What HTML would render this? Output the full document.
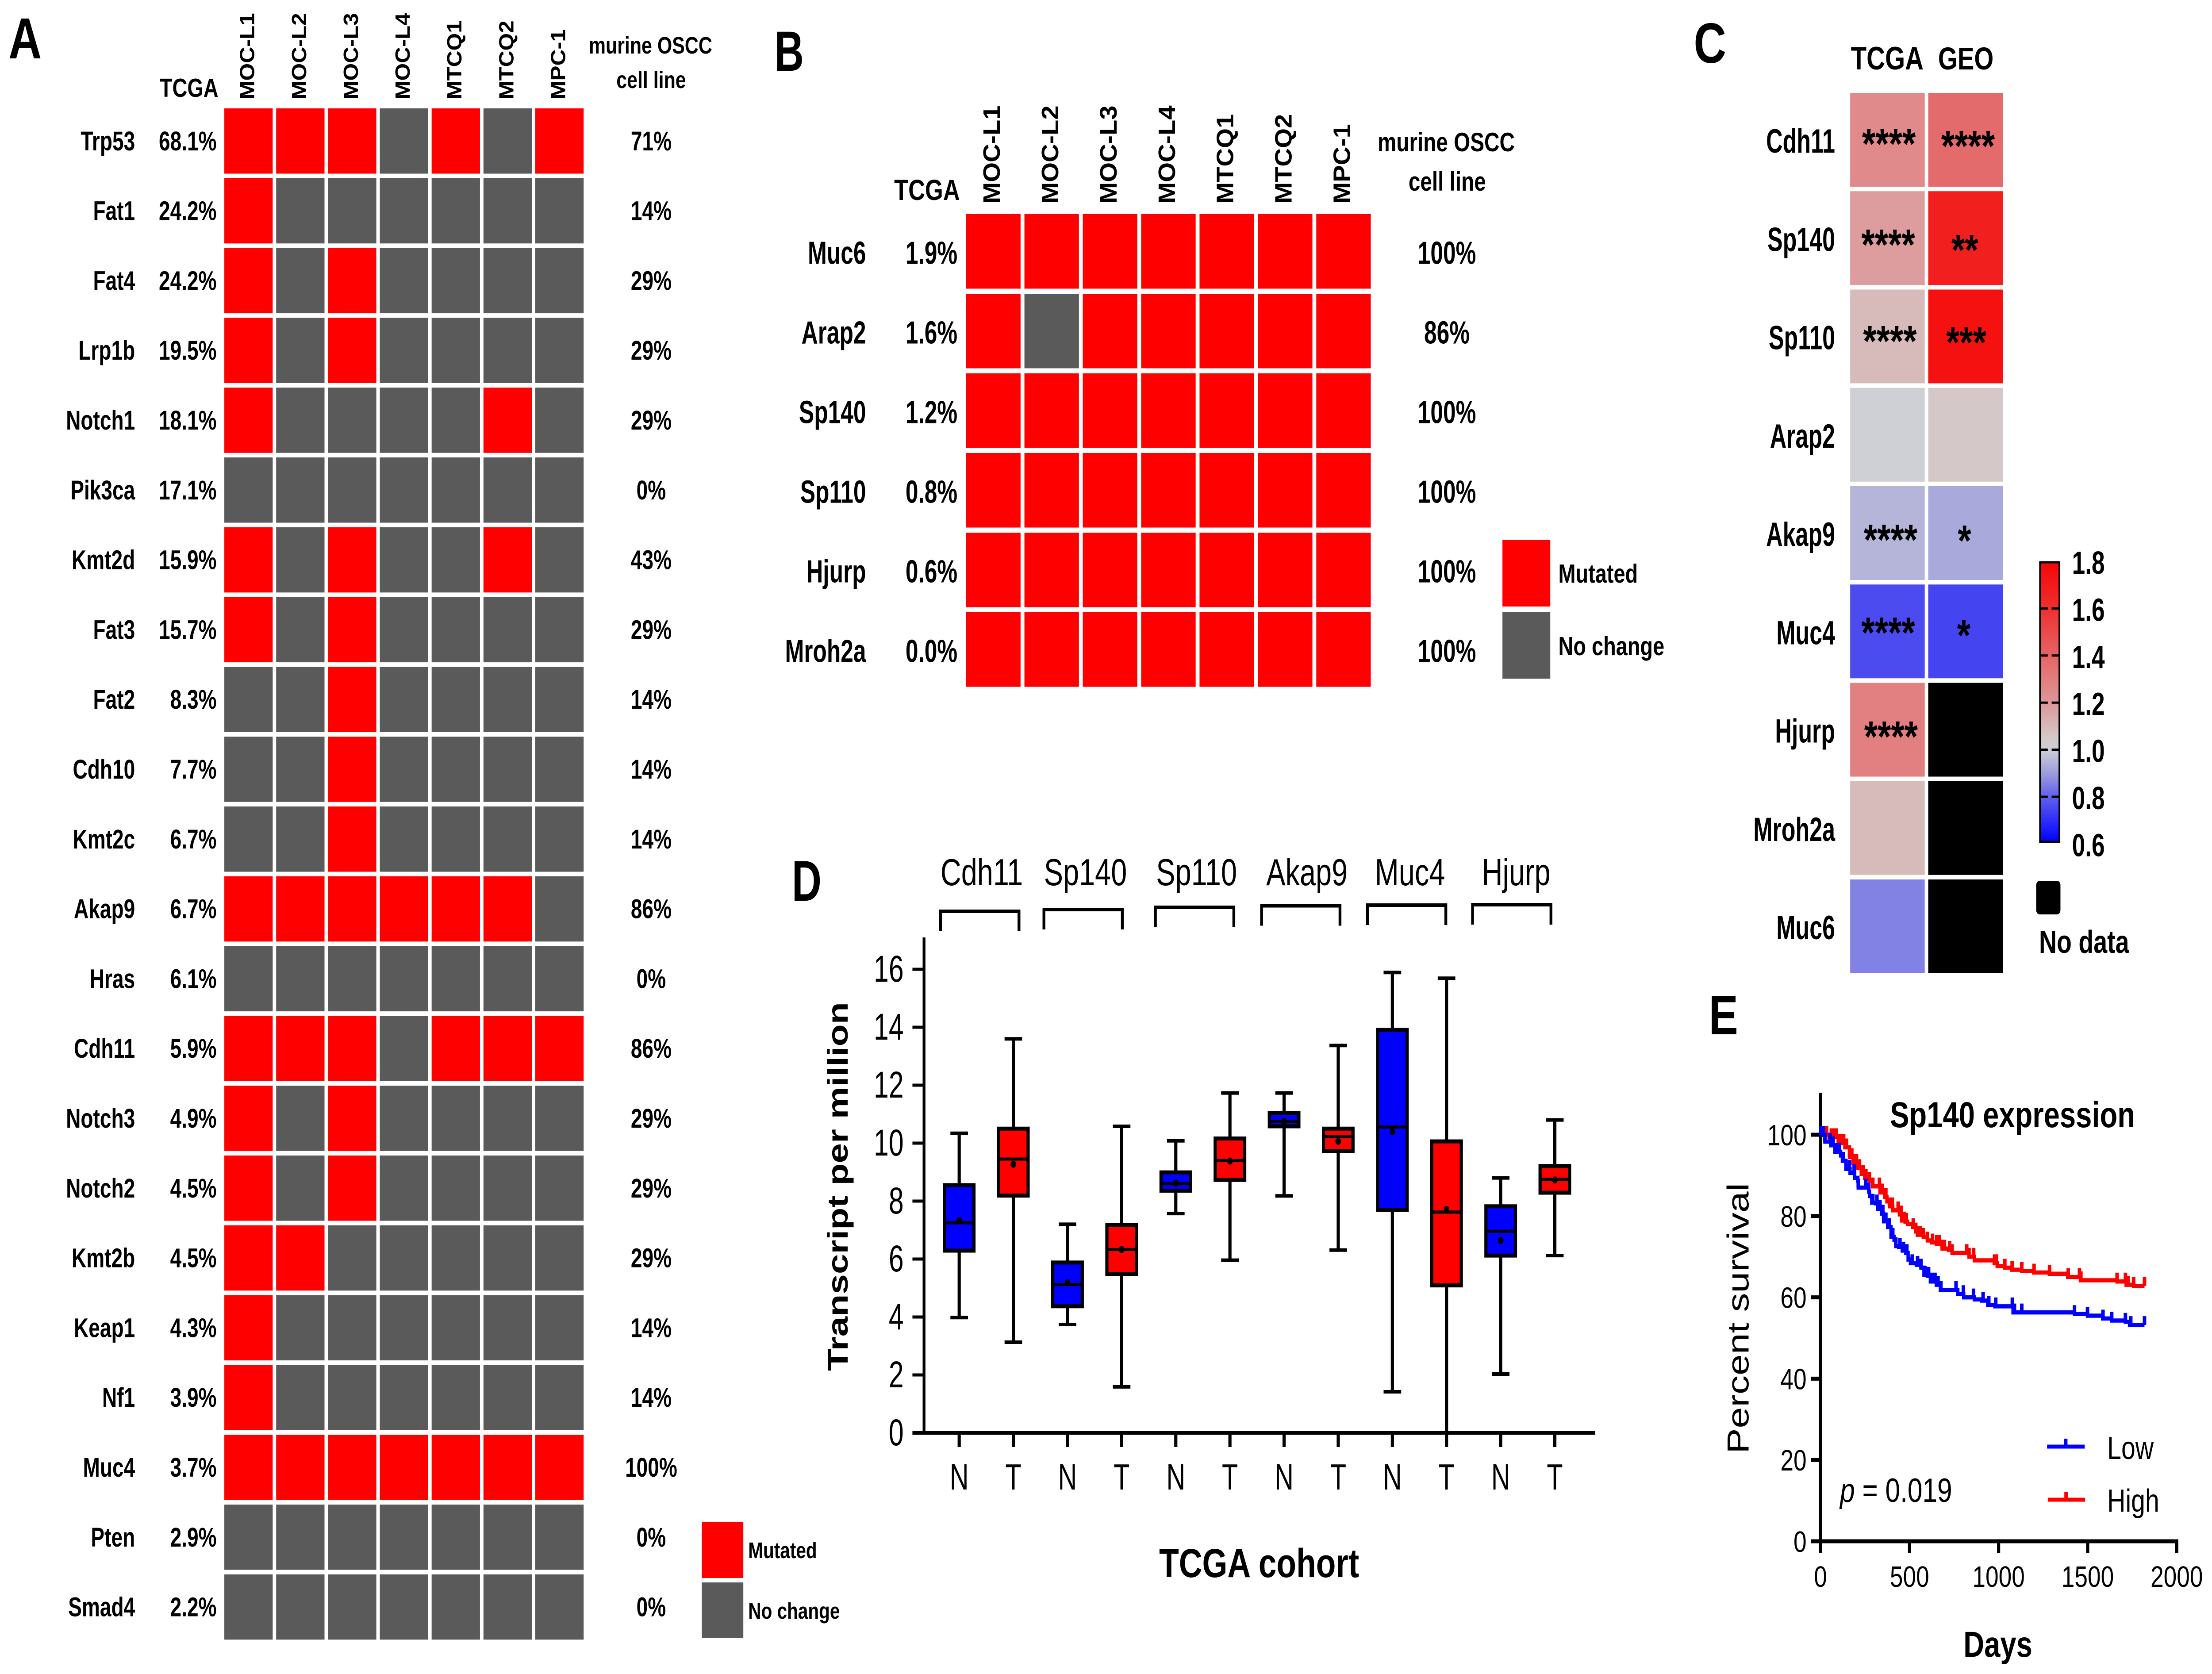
<!DOCTYPE html>
<html lang="en">
<head>
<meta charset="utf-8">
<title>Mutation and expression panels</title>
<style>
html,body{margin:0;padding:0;background:#fff;width:100%;height:100%;overflow:hidden;}
svg#fig{display:block;width:100vw;height:100vh;}
text{font-family:"Liberation Sans",Arial,sans-serif;fill:#000;}
.b{font-weight:700;}
</style>
</head>
<body>
<svg id="fig" xmlns="http://www.w3.org/2000/svg" viewBox="0 0 6291 3784" preserveAspectRatio="none">
<defs>
<linearGradient id="cbar" x1="0" y1="0" x2="0" y2="1">
<stop offset="0" stop-color="#f80606"/>
<stop offset="0.167" stop-color="#ee3030"/>
<stop offset="0.333" stop-color="#e56464"/>
<stop offset="0.5" stop-color="#de9698"/>
<stop offset="0.625" stop-color="#d4c8c8"/>
<stop offset="0.667" stop-color="#cfcfd6"/>
<stop offset="0.75" stop-color="#a0a0dc"/>
<stop offset="0.833" stop-color="#6464eb"/>
<stop offset="1" stop-color="#0000ff"/>
</linearGradient>
</defs>
<rect x="0" y="0" width="6291" height="3784" fill="#fff"/>

<!-- PANEL A -->
<g id="panelA">
<text class="b" x="24" y="132" font-size="131">A</text>
<text class="b" x="454" y="219" font-size="59">TCGA</text>
<text class="b" x="1850" y="121" font-size="54" text-anchor="middle">murine OSCC</text>
<text class="b" x="1852" y="199" font-size="54" text-anchor="middle">cell line</text>
<rect x="1996" y="3441" width="118" height="126" fill="#ff0000"/>
<rect x="1996" y="3577" width="118" height="125" fill="#5a5a5a"/>
<text class="b" x="2128" y="3522" font-size="51" fill="#222">Mutated</text>
<text class="b" x="2128" y="3659" font-size="51" fill="#222">No change</text>
</g>

<!-- PANEL B -->
<g id="panelB">
<text class="b" transform="translate(2203 160) scale(.9 1)" font-size="128">B</text>
<text class="b" x="2543" y="452" font-size="66">TCGA</text>
<text class="b" x="4113" y="342" font-size="60" text-anchor="middle">murine OSCC</text>
<text class="b" x="4116" y="431" font-size="60" text-anchor="middle">cell line</text>
<rect x="4273" y="1220" width="136" height="151" fill="#ff0000"/>
<rect x="4273" y="1384" width="136" height="150" fill="#5a5a5a"/>
<text class="b" x="4432" y="1317" font-size="59" fill="#222">Mutated</text>
<text class="b" x="4432" y="1481" font-size="59" fill="#222">No change</text>
</g>

<!-- PANEL C -->
<g id="panelC">
<text class="b" x="4817" y="142" font-size="128">C</text>
<text class="b" x="5264" y="157" font-size="73">TCGA</text>
<text class="b" x="5512" y="157" font-size="71">GEO</text>
<rect x="5802" y="1271" width="55" height="632" fill="url(#cbar)" stroke="#000" stroke-width="5"/>
<rect x="5791" y="1991" width="69" height="76" rx="10" fill="#000"/>
<text class="b" transform="translate(5799 2154) scale(.97 1)" font-size="72">No data</text>
</g>

<!-- PANEL D -->
<g id="panelD">
<text class="b" transform="translate(2252 2036) scale(.9 1)" font-size="130">D</text>
<text class="b" transform="translate(2411 2682) rotate(-90)" text-anchor="middle" font-size="82">Transcript per million</text>
<text class="b" x="3581" y="3565" font-size="92" text-anchor="middle">TCGA cohort</text>
</g>

<!-- PANEL E -->
<g id="panelE">
<text class="b" x="4860" y="2338" font-size="125">E</text>
<text class="b" x="5375" y="2548" font-size="82">Sp140 expression</text>
<text transform="translate(4973 2980) rotate(-90)" text-anchor="middle" font-size="86">Percent survival</text>
<text class="b" x="5682" y="3745" font-size="82" text-anchor="middle">Days</text>
<text x="5233" y="3395" font-size="76"><tspan font-style="italic">p</tspan> = 0.019</text>
<line x1="5822" x2="5929" y1="3270" y2="3270" stroke="#0000ff" stroke-width="9"/>
<line x1="5875" x2="5875" y1="3270" y2="3252" stroke="#0000ff" stroke-width="10"/>
<text x="5993" y="3298" font-size="72">Low</text>
<line x1="5824" x2="5930" y1="3390" y2="3390" stroke="#ff0000" stroke-width="9"/>
<line x1="5876" x2="5876" y1="3390" y2="3372" stroke="#ff0000" stroke-width="10"/>
<text x="5993" y="3417" font-size="72">High</text>
</g>
</svg>

<script>
/* ---------- Panel A data ---------- */
const cellLines = ['MOC-L1','MOC-L2','MOC-L3','MOC-L4','MTCQ1','MTCQ2','MPC-1'];
const genesA = ['Trp53','Fat1','Fat4','Lrp1b','Notch1','Pik3ca','Kmt2d','Fat3','Fat2','Cdh10','Kmt2c','Akap9','Hras','Cdh11','Notch3','Notch2','Kmt2b','Keap1','Nf1','Muc4','Pten','Smad4'];
const tcgaA = ['68.1%','24.2%','24.2%','19.5%','18.1%','17.1%','15.9%','15.7%','8.3%','7.7%','6.7%','6.7%','6.1%','5.9%','4.9%','4.5%','4.5%','4.3%','3.9%','3.7%','2.9%','2.2%'];
const osccA = ['71%','14%','29%','29%','29%','0%','43%','29%','14%','14%','14%','86%','0%','86%','29%','29%','29%','14%','14%','100%','0%','0%'];
const mutatedA = ['1110101','1000000','1010000','1010000','1000010','0000000','1010010','1010000','0010000','0010000','0010000','1111110','0000000','1110111','1010000','1010000','1100000','1000000','1000000','1111111','0000000','0000000'];

/* ---------- Panel B data ---------- */
const genesB = ['Muc6','Arap2','Sp140','Sp110','Hjurp','Mroh2a'];
const tcgaB = ['1.9%','1.6%','1.2%','0.8%','0.6%','0.0%'];
const osccB = ['100%','86%','100%','100%','100%','100%'];
const mutatedB = ['1111111','1011111','1111111','1111111','1111111','1111111'];

/* ---------- Panel C data ---------- */
const genesC = ['Cdh11','Sp140','Sp110','Arap2','Akap9','Muc4','Hjurp','Mroh2a','Muc6'];
const heatTcga = [1.25,1.18,1.09,1.0,0.945,0.75,1.29,1.09,0.85];
const heatGeo = [1.37,1.68,1.75,1.05,0.92,0.736,null,null,null];
const starsTcga = ['****','****','****','','****','****','****','',''];
const starsGeo = ['****','**','***','','*','*','','',''];
const colorbarTicks = [1.8,1.6,1.4,1.2,1.0,0.8,0.6];

/* ---------- Panel D data ---------- */
const boxGenes = ['Cdh11','Sp140','Sp110','Akap9','Muc4','Hjurp'];
const boxGroups = ['N','T','N','T','N','T','N','T','N','T','N','T'];
const whiskerLow = [3.98,3.13,3.74,1.59,7.57,5.96,8.18,6.31,1.42,0,2.03,6.12];
const boxQ1 = [6.29,8.19,4.37,5.48,8.36,8.73,10.58,9.73,7.7,5.09,6.12,8.29];
const boxMedian = [7.25,9.45,5.12,6.33,8.6,9.4,10.75,10.23,10.56,7.62,6.96,8.75];
const boxMean = [7.33,9.27,5.18,6.33,8.62,9.38,10.75,10.06,10.4,7.71,6.64,8.73];
const boxQ3 = [8.55,10.5,5.88,7.18,8.99,10.16,11.04,10.5,13.91,10.06,7.82,9.21];
const whiskerHigh = [10.34,13.6,7.2,10.58,10.08,11.73,11.73,13.37,15.89,15.69,8.8,10.8];
const boxYTicks = [0,2,4,6,8,10,12,14,16];

/* ---------- Panel E data ---------- */
const lowDays = [0,25,58,81,113,123,143,166,192,210,212,271,275,288,311,321,344,354,377,396,413,423,439,459,479,492,505,538,564,581,600,617,650,673,771,804,864,906,939,979,1081,1130,1426,1499,1584,1635,1712,1735];
const lowSurv = [100,98.3,97.4,95.8,94.9,93.6,91.6,90.6,89.4,88.7,87,86,84.9,83.3,83.1,81.8,80.6,78.7,77.3,74.9,74.2,72.6,72.4,71.5,70.9,69.3,68.4,68,67.3,65.5,65.3,63.9,63.1,61.8,60.8,60,59.5,59.2,58.1,57.8,56.3,56.3,55.9,55.5,54.8,54.3,54,53.2];
const lowCensor = [2,15,25,54,71,87,107,127,143,163,189,212,255,271,294,317,334,350,367,387,406,423,446,466,485,515,545,564,587,607,623,643,660,676,761,802,859,913,945,984,1077,1089,1130,1426,1499,1586,1635,1712,1742,1819];
const highDays = [0,48,100,137,163,183,206,229,248,275,292,334,360,373,387,406,443,456,475,489,518,535,544,577,600,623,650,683,719,739,834,864,975,992,1035,1075,1129,1197,1285,1388,1459,1665,1716,1758];
const highSurv = [100,99.4,98,96.9,94.5,93.1,91.8,90.4,89.4,88.7,87.3,85.8,84.7,83.6,82.4,81.4,80.4,78.9,78.6,78,77.3,76.2,75.4,74.9,74,73.5,73.2,72,71.7,70.9,70,69.1,68.4,67.7,67.3,66.8,66.5,66.1,65.8,65,64.2,63.9,63.1,62.8];
const highCensor = [34,61,74,87,100,113,130,146,163,176,189,202,219,239,255,275,294,331,347,367,387,403,436,452,469,482,521,535,548,561,577,600,629,653,666,683,696,725,739,821,834,860,977,988,1035,1076,1130,1199,1286,1391,1454,1462,1665,1712,1726,1758,1819];
const survYTicks = [0,20,40,60,80,100];
const survXTicks = [0,500,1000,1500,2000];

/* ---------- helpers ---------- */
const NS = 'http://www.w3.org/2000/svg';
const RED = '#ff0000', BLUE = '#0000ff', GRAY = '#5a5a5a';
function mk(parent, tag, attrs) {
  const e = document.createElementNS(NS, tag);
  for (const k in attrs) e.setAttribute(k, attrs[k]);
  parent.appendChild(e);
  return e;
}
function label(parent, x, y, str, size, bold, anchor, sx, rot) {
  const e = document.createElementNS(NS, 'text');
  e.setAttribute('transform', 'translate(' + x + ' ' + y + ')' + (rot ? ' rotate(' + rot + ')' : '') + ' scale(' + (sx || 1) + ' 1)');
  e.setAttribute('font-size', size);
  if (bold) e.setAttribute('font-weight', '700');
  e.setAttribute('text-anchor', anchor || 'start');
  e.textContent = str;
  parent.appendChild(e);
  return e;
}

/* ---------- Panels A and B: mutation grids ---------- */
function drawGrid(panel, genes, tcga, oscc, mutated, g) {
  cellLines.forEach(function (name, c) {
    const el = label(panel, g.x0 + c * g.px + g.hdrOff, g.hdrY, name, g.hdrSize, true, 'start', g.hdrSx, -90);
    
    
  });
  genes.forEach(function (gene, r) {
    const cy = g.y0 + r * g.py + g.h / 2;
    const gl = label(panel, g.geneX, cy + g.base, gene, g.size, true, 'end', g.sx);
    
    
    const tl = label(panel, g.pctX, cy + g.base, tcga[r], g.size, true, 'end', g.sx);
    
    
    const ol = label(panel, g.osccX, cy + g.base, oscc[r], g.size, true, 'middle', g.sx);
    
    
    for (let c = 0; c < cellLines.length; c++) {
      const cell = mk(panel, 'rect', {x: g.x0 + c * g.px, y: g.y0 + r * g.py, width: g.w, height: g.h, fill: mutated[r][c] === '1' ? RED : GRAY});
      
      
    }
  });
}
drawGrid(document.getElementById('panelA'), genesA, tcgaA, osccA, mutatedA,
  {x0: 638, y0: 245, px: 147.4, py: 157.8, w: 137.5, h: 147.5, hdrOff: 85, hdrY: 225, hdrSize: 58, hdrSx: .88, geneX: 384, pctX: 616, osccX: 1852, size: 61, sx: .95, base: 21});
drawGrid(document.getElementById('panelB'), genesB, tcgaB, osccB, mutatedB,
  {x0: 2747.5, y0: 484, px: 166, py: 180, w: 155, h: 168.5, hdrOff: 96, hdrY: 460, hdrSize: 68, hdrSx: .85, geneX: 2463, pctX: 2723, osccX: 4115, size: 72, sx: .9, base: 28});

/* ---------- Panel C: heatmap ---------- */
const heatStops = [[.6,0,0,255],[.8,100,100,235],[.9,160,160,220],[1,207,207,214],[1.05,212,200,200],[1.2,222,150,152],[1.4,229,100,100],[1.6,238,48,48],[1.8,248,6,6]];
function heatColor(v) {
  if (v === null) return '#000';
  for (let i = 1; i < heatStops.length; i++) {
    if (v <= heatStops[i][0]) {
      const a = heatStops[i - 1], b = heatStops[i], f = Math.max(0, (v - a[0]) / (b[0] - a[0]));
      return 'rgb(' + [1, 2, 3].map(function (k) { return Math.round(a[k] + (b[k] - a[k]) * f); }).join(',') + ')';
    }
  }
  return '#f80606';
}
const panelC = document.getElementById('panelC');
const cbarY = function (v) { return 1269 + (1.8 - v) * 532; };
const heatRowY = function (r) { return 210 + r * 222.25; };
const starOffsetsT = [[5372,315],[5370,543],[5375,761],[0,0],[5377,1210],[5370,1420],[5378,1655]];
const starOffsetsG = [[5597,320],[5588,555],[5592,764],[0,0],[5587,1212],[5585,1426]];
genesC.forEach(function (gene, r) {
  const gl = label(panelC, 5219, heatRowY(r) + 135, gene, 76, true, 'end', .86);
  
  
  const ct = mk(panelC, 'rect', {x: 5262, y: heatRowY(r), width: 212, height: 212, fill: heatColor(heatTcga[r])});
  
  
  const cg = mk(panelC, 'rect', {x: 5484, y: heatRowY(r), width: 212, height: 212, fill: heatColor(heatGeo[r])});
  
  
  if (starsTcga[r]) {
    const s = label(panelC, starOffsetsT[r][0], starOffsetsT[r][1] + 44, starsTcga[r], 98, true, 'middle');
    
    
  }
  if (starsGeo[r]) {
    const s2 = label(panelC, starOffsetsG[r][0], starOffsetsG[r][1] + 44, starsGeo[r], 98, true, 'middle');
    
    
  }
});
colorbarTicks.forEach(function (v) {
  const tl = label(panelC, 5893, cbarY(v) + 28, v.toFixed(1), 72, true, 'start', .93);
  
  
  if (v < 1.8 && v > 0.6) {
    const a = mk(panelC, 'line', {x1: 5802, x2: 5824, y1: cbarY(v), y2: cbarY(v), stroke: '#000', 'stroke-width': 5});
    
    
    const b = mk(panelC, 'line', {x1: 5835, x2: 5857, y1: cbarY(v), y2: cbarY(v), stroke: '#000', 'stroke-width': 5});
    
    
  }
});

/* ---------- Panel D: box plot ---------- */
const panelD = document.getElementById('panelD');
const dY = function (v) { return 3239 - v * 65.5; };
const dX = function (i) { return 2728 + i * 154; };
const yAxisD = mk(panelD, 'line', {x1: 2628, x2: 2628, y1: 2119, y2: 3243, stroke: '#000', 'stroke-width': 8});


const xAxisD = mk(panelD, 'line', {x1: 2595, x2: 4537, y1: 3239, y2: 3239, stroke: '#000', 'stroke-width': 8});


boxYTicks.forEach(function (v) {
  const t = mk(panelD, 'line', {x1: 2595, x2: 2628, y1: dY(v), y2: dY(v), stroke: '#000', 'stroke-width': 7});
  
  
  const l = label(panelD, 2570, dY(v) + 28, String(v), 84, false, 'end', .91);
  
  
});
boxGroups.forEach(function (grp, i) {
  const x = dX(i), col = grp === 'N' ? BLUE : RED;
  const t = mk(panelD, 'line', {x1: x, x2: x, y1: 3239, y2: 3271, stroke: '#000', 'stroke-width': 9});
  
  
  const l = label(panelD, x, 3367, grp, 83, false, 'middle', .9);
  
  
  const wh = mk(panelD, 'line', {x1: x, x2: x, y1: dY(whiskerHigh[i]), y2: dY(boxQ3[i]), stroke: '#000', 'stroke-width': 9});
  
  
  const wl = mk(panelD, 'line', {x1: x, x2: x, y1: dY(boxQ1[i]), y2: dY(whiskerLow[i]), stroke: '#000', 'stroke-width': 9});
  
  
  const ch = mk(panelD, 'line', {x1: x - 25, x2: x + 25, y1: dY(whiskerHigh[i]), y2: dY(whiskerHigh[i]), stroke: '#000', 'stroke-width': 8});
  
  
  const cl = mk(panelD, 'line', {x1: x - 25, x2: x + 25, y1: dY(whiskerLow[i]), y2: dY(whiskerLow[i]), stroke: '#000', 'stroke-width': 8});
  
  
  const b = mk(panelD, 'rect', {x: x - 42, y: dY(boxQ3[i]), width: 84, height: dY(boxQ1[i]) - dY(boxQ3[i]), fill: col, stroke: '#000', 'stroke-width': 9});
  
  
  const m = mk(panelD, 'line', {x1: x - 42, x2: x + 42, y1: dY(boxMedian[i]), y2: dY(boxMedian[i]), stroke: '#000', 'stroke-width': 7});
  
  
  const d = mk(panelD, 'circle', {cx: x, cy: dY(boxMean[i]), r: 8, fill: '#000'});
  
  
});
const geneLabelX = [2792, 3087, 3403, 3717, 4010, 4312];
const bracketTop = [2060, 2056, 2051, 2047.5, 2046, 2045];
const bracketLeft = [2675, 2969, 3286, 3588, 3889, 4188];
boxGenes.forEach(function (gene, i) {
  const l = label(panelD, geneLabelX[i], 2001, gene, 85, false, 'middle', .96);
  
  
  const t = bracketTop[i], a = bracketLeft[i];
  const br = mk(panelD, 'path', {d: 'M' + a + ' ' + (t + 45) + 'V' + t + 'H' + (a + 223) + 'V' + (t + 45), fill: 'none', stroke: '#000', 'stroke-width': 8});
  
  
});

/* ---------- Panel E: survival ---------- */
const panelE = document.getElementById('panelE');
const eX = function (d) { return 5177.5 + d * 0.5066; };
const eY = function (s) { return 3484 - s * 9.19; };
const yAxisE = mk(panelE, 'line', {x1: 5177.5, x2: 5177.5, y1: 2470, y2: 3488, stroke: '#000', 'stroke-width': 9});


const xAxisE = mk(panelE, 'line', {x1: 5150, x2: 6195, y1: 3484, y2: 3484, stroke: '#000', 'stroke-width': 9});


survYTicks.forEach(function (v) {
  const t = mk(panelE, 'line', {x1: 5150, x2: 5177, y1: eY(v), y2: eY(v), stroke: '#000', 'stroke-width': 9});
  
  
  const l = label(panelE, 5138, eY(v) + 24, String(v), 67, false, 'end');
  
  
});
survXTicks.forEach(function (v) {
  const t = mk(panelE, 'line', {x1: eX(v), x2: eX(v), y1: 3484, y2: 3511, stroke: '#000', 'stroke-width': 9});
  
  
  const l = label(panelE, eX(v), 3587, String(v), 67, false, 'middle');
  
  
});
function stepPath(days, surv, end) {
  let d = 'M' + eX(days[0]) + ' ' + eY(surv[0]);
  for (let i = 1; i < days.length; i++) d += 'H' + eX(days[i]) + 'V' + eY(surv[i]);
  return d + 'H' + eX(end);
}
function levelAt(days, surv, day) {
  let s = surv[0];
  for (let i = 0; i < days.length; i++) if (days[i] <= day) s = surv[i];
  return s;
}
function censorPath(days, surv, cens) {
  return cens.map(function (c) {
    const y = eY(levelAt(days, surv, c));
    return 'M' + eX(c) + ' ' + y + 'V' + (y - 20);
  }).join('');
}
const highLine = mk(panelE, 'path', {d: stepPath(highDays, highSurv, 1819), fill: 'none', stroke: RED, 'stroke-width': 9.5});


const highTicks = mk(panelE, 'path', {d: censorPath(highDays, highSurv, highCensor), fill: 'none', stroke: RED, 'stroke-width': 10});


const lowLine = mk(panelE, 'path', {d: stepPath(lowDays, lowSurv, 1819), fill: 'none', stroke: BLUE, 'stroke-width': 9.5});


const lowTicks = mk(panelE, 'path', {d: censorPath(lowDays, lowSurv, lowCensor), fill: 'none', stroke: BLUE, 'stroke-width': 10});


</script>
</body>
</html>
